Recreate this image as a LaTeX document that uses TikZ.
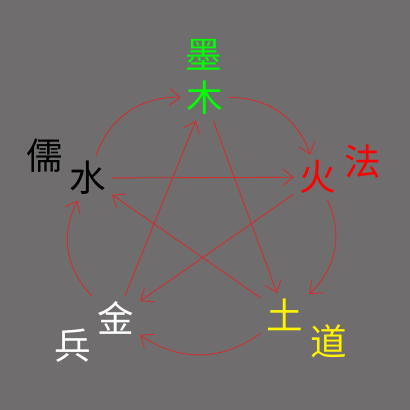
\documentclass[tikz,border=0pt]{standalone}
\usepackage{fontspec}
\usepackage{xcolor}
\usetikzlibrary{arrows.meta, positioning}
\newfontfamily\cjk{Noto Sans CJK SC}
\definecolor{bggray}{RGB}{111,109,109}
\definecolor{linkred}{RGB}{214,44,44}
\tikzset{
    elem/.style={font=\cjk\fontsize{26}{26}\selectfont, inner sep=4pt},
    school/.style={font=\cjk\fontsize{26}{26}\selectfont, inner sep=1pt},
    link/.style={draw=linkred, line width=0.6pt, -{Straight Barb[length=2.6mm, width=4.2mm]}}
}

\begin{document}
\begin{tikzpicture}
    \fill[bggray] (0, 0) rectangle (10.25, 10.25);
    \useasboundingbox (0, 0) rectangle (10.25, 10.25);

    \node[elem, text=green] (mu) at (5.125, 7.8) {木};
    \node[elem, text=red] (huo) at (7.95, 5.82) {火};
    \node[elem, text=yellow] (tu) at (7.125, 2.38) {土};
    \node[elem, text=white] (jin) at (2.9, 2.3) {金};
    \node[elem, text=black] (shui) at (2.2, 5.8) {水};

    \node[school, text=green] (mo) at (5.1, 8.87) {墨};
    \node[school, text=red] (fa) at (9.075, 6.2) {法};
    \node[school, text=yellow] (dao) at (8.225, 1.72) {道};
    \node[school, text=white] (bing) at (1.825, 1.62) {兵};
    \node[school, text=black] (ru) at (1.125, 6.37) {儒};

    \draw
    (mu) edge[link, bend left=36] (huo)
    (huo) edge[link, bend left=36] (tu)
    (tu) edge[link, bend left=36] (jin)
    (jin) edge[link, bend left=36] (shui)
    (shui) edge[link, bend left=36] (mu)
    (shui) edge[link] (huo)
    (mu) edge[link] (tu)
    (tu) edge[link] (shui)
    (huo) edge[link] (jin)
    (jin) edge[link] (mu);
\end{tikzpicture}
\end{document}
